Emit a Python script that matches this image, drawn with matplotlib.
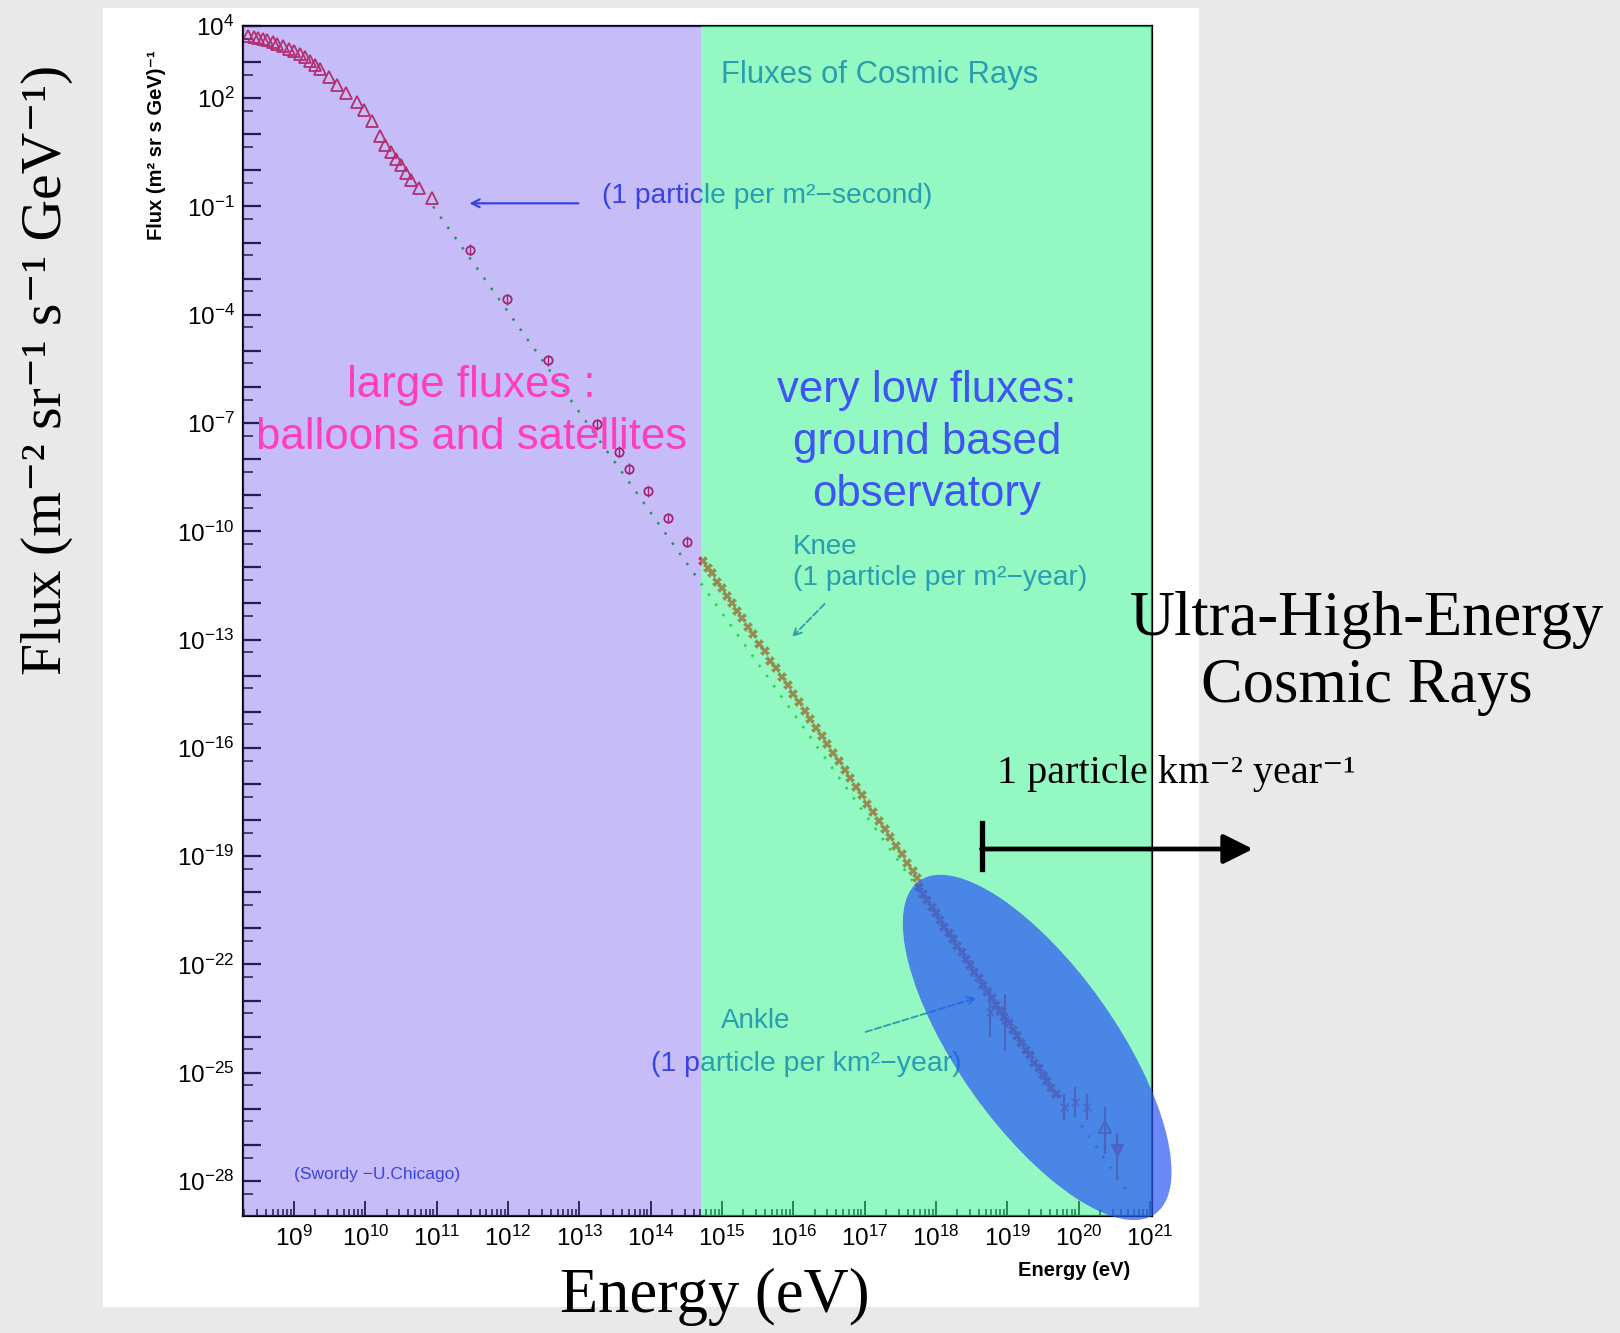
import numpy as np
import matplotlib
matplotlib.use("Agg")
import matplotlib.pyplot as plt
from matplotlib.patches import Ellipse, Rectangle, FancyArrowPatch
from matplotlib.lines import Line2D
from matplotlib.transforms import ScaledTranslation
from matplotlib.ticker import FixedLocator, NullFormatter

plt.rcParams['font.family'] = ['Liberation Sans', 'DejaVu Sans']
plt.rcParams['mathtext.fontset'] = 'custom'
plt.rcParams['mathtext.rm'] = 'Liberation Sans'
plt.rcParams['mathtext.it'] = 'Liberation Sans:italic'
plt.rcParams['mathtext.bf'] = 'Liberation Sans:bold'

# ---------------- data: log10(E / eV) and log10(flux) ----------------
# balloon / satellite spectrum (open triangles)
low_logE = [8.36, 8.44, 8.50, 8.56, 8.62, 8.70, 8.76, 8.84, 8.93, 9.00, 9.08, 9.15,
            9.22, 9.30, 9.37, 9.49, 9.60, 9.73, 9.88, 9.98, 10.09, 10.21, 10.28,
            10.36, 10.43, 10.50, 10.57, 10.64, 10.75, 10.93]
low_logF = [3.71, 3.70, 3.66, 3.64, 3.60, 3.55, 3.51, 3.44, 3.37, 3.30, 3.23, 3.14,
            3.03, 2.92, 2.80, 2.60, 2.37, 2.14, 1.89, 1.66, 1.37, 0.94, 0.71,
            0.51, 0.31, 0.14, -0.06, -0.26, -0.49, -0.77]

# direct measurements up to the knee (open circles)
mid_logE = [11.47, 11.98, 12.56, 13.25, 13.56, 13.70, 13.96, 14.24, 14.51]
mid_logF = [-2.20, -3.57, -5.26, -7.03, -7.80, -8.26, -8.89, -9.63, -10.29]
mid_err = [0.15, 0.15, 0.15, 0.15, 0.15, 0.15, 0.15, 0.15, 0.15]

# air-shower data around the knee
knee_logE = [14.74, 14.80, 14.86, 14.93, 15.00, 15.07, 15.14, 15.21, 15.28, 15.36,
             15.44, 15.52, 15.60, 15.68, 15.76, 15.84, 15.92, 16.00, 16.08, 16.16,
             16.24, 16.32, 16.40, 16.48, 16.56, 16.64, 16.72, 16.80, 16.88, 16.96,
             17.04, 17.12, 17.20, 17.28, 17.36, 17.44, 17.52, 17.60, 17.68, 17.74]
knee_logF = [-10.83, -11.02, -11.16, -11.40, -11.58, -11.80, -12.00, -12.22, -12.40, -12.64,
             -12.85, -13.12, -13.33, -13.58, -13.79, -14.05, -14.26, -14.52, -14.72, -14.97,
             -15.20, -15.44, -15.66, -15.90, -16.14, -16.37, -16.61, -16.84, -17.08, -17.31,
             -17.55, -17.78, -18.02, -18.25, -18.48, -18.72, -18.95, -19.18, -19.42, -19.60]

# ultra-high-energy data up to the ankle
ankle_logE = [17.76, 17.82, 17.88, 17.94, 18.00, 18.06, 18.12, 18.18, 18.24, 18.30,
              18.36, 18.42, 18.48, 18.54, 18.60, 18.66, 18.72, 18.78, 18.84, 18.90,
              18.96, 19.02, 19.08, 19.14, 19.20, 19.26, 19.32, 19.38, 19.44, 19.50,
              19.56, 19.62, 19.68]
ankle_logF = [-19.86, -20.05, -20.22, -20.41, -20.58, -20.76, -20.95, -21.12, -21.30, -21.50,
              -21.66, -21.85, -22.02, -22.22, -22.38, -22.58, -22.76, -22.93, -23.12, -23.28,
              -23.47, -23.63, -23.83, -23.99, -24.18, -24.36, -24.52, -24.72, -24.88, -25.07,
              -25.22, -25.42, -25.58]

# individual UHE points with error bars
uhe_logE = [18.76, 18.97, 19.79, 19.95, 20.12]
uhe_logF = [-23.32, -23.55, -25.94, -25.80, -25.94]
uhe_lo = [-24.01, -24.40, -26.30, -26.20, -26.30]
uhe_hi = [-22.63, -22.82, -25.60, -25.40, -25.60]

top_up_logE, top_up_logF, top_up_lo, top_up_hi = [20.37], [-26.50], [-27.24], [-25.95]
top_dn_logE, top_dn_logF, top_dn_lo, top_dn_hi = [20.54], [-27.15], [-27.97], [-26.68]

# power-law guide lines
fit_logE = [10.95, 17.75]
fit_logF = [-1.00, -19.90]
fit2_logE = [17.75, 20.70]
fit2_logF = [-19.90, -28.35]

# axis decades
x_label_exps = [9, 10, 11, 12, 13, 14, 15, 16, 17, 18, 19, 20, 21]
y_label_exps = [4, 2, -1, -4, -7, -10, -13, -16, -19, -22, -25, -28]
y_tick_exps = list(range(-28, 5))

# region boundary between direct and ground-based measurements
split_logE = 14.70
xlim_log = (8.285, 21.03)
ylim_log = (-28.97, 4.0)


def p(v):
    return 10.0 ** np.asarray(v, dtype=float)


def yerr_of(f, lo, hi):
    f, lo, hi = p(f), p(lo), p(hi)
    return [f - lo, hi - f]


W, H = 1620, 1333
fig = plt.figure(figsize=(W / 100, H / 100), dpi=100)
fig.patch.set_facecolor('#e9e9e9')

# white slide panel behind the plot
fig.add_artist(Rectangle((103 / W, 1 - 1307 / H), (1199 - 103) / W, (1307 - 8) / H,
                         transform=fig.transFigure, facecolor='white', edgecolor='none',
                         zorder=-5))

ax = fig.add_axes([243 / W, 1 - 1216 / H, 909 / W, 1190 / H])
ax.set_facecolor('white')
ax.set_xscale('log')
ax.set_yscale('log')
ax.set_xlim(p(xlim_log[0]), p(xlim_log[1]))
ax.set_ylim(p(ylim_log[0]), p(ylim_log[1]))

red = '#ff1a10'
dred = '#c4102c'

# guide lines
ax.plot(p(fit_logE), p(fit_logF), ls=(0, (1, 4)), color='#00c000', lw=1.8, zorder=2)
ax.plot(p(fit2_logE), p(fit2_logF), ls=(0, (1, 4)), color='#00c000', lw=1.8, zorder=2)

# spectra
ax.plot(p(low_logE), p(low_logF), ls='none', marker='^', ms=8, mfc='none',
        mec='#e0202a', mew=1.3, zorder=3)
ax.errorbar(p(mid_logE), p(mid_logF),
            yerr=[p(mid_logF) - p(np.subtract(mid_logF, mid_err)),
                  p(np.add(mid_logF, mid_err)) - p(mid_logF)],
            fmt='o', ms=6, mfc='none', mec=dred, mew=1.3, ecolor=dred, elinewidth=1.0,
            zorder=3)
ax.plot(p(knee_logE), p(knee_logF), ls='none', marker='X', ms=7, color=red, mew=0,
        zorder=3)
ax.plot(p(ankle_logE), p(ankle_logF), ls='none', marker='X', ms=7, color=red, mew=0,
        zorder=3)
ax.errorbar(p(uhe_logE), p(uhe_logF), yerr=yerr_of(uhe_logF, uhe_lo, uhe_hi),
            fmt='x', ms=6, color=red, ecolor=red, elinewidth=1.6, zorder=3)
ax.errorbar(p(top_up_logE), p(top_up_logF), yerr=yerr_of(top_up_logF, top_up_lo, top_up_hi),
            fmt='^', ms=9, mfc='none', mec=red, mew=1.4, ecolor=red, elinewidth=1.6, zorder=3)
ax.errorbar(p(top_dn_logE), p(top_dn_logF), yerr=yerr_of(top_dn_logF, top_dn_lo, top_dn_hi),
            fmt='v', ms=9, color=red, ecolor=red, elinewidth=1.6, zorder=3)

# original plot annotations
blue = '#2040dc'
ax.text(0.526, 0.959, 'Fluxes of Cosmic Rays', transform=ax.transAxes, ha='left',
        va='center', fontsize=22.3, color=blue, zorder=3)
ax.text(0.395, 0.857, '(1 particle per m²−second)', transform=ax.transAxes, ha='left',
        va='center', fontsize=20.3, color=blue, zorder=3)
ax.annotate('', xy=(0.246, 0.851), xytext=(0.372, 0.851), xycoords='axes fraction',
            arrowprops=dict(arrowstyle='->', color=blue, lw=1.6, mutation_scale=14),
            zorder=3)
ax.text(0.605, 0.562, 'Knee', transform=ax.transAxes, ha='left', va='center',
        fontsize=20, color=blue, zorder=3)
ax.text(0.605, 0.536, '(1 particle per m²−year)', transform=ax.transAxes, ha='left',
        va='center', fontsize=20.3, color=blue, zorder=3)
ax.annotate('', xy=(0.602, 0.485), xytext=(0.642, 0.516), xycoords='axes fraction',
            arrowprops=dict(arrowstyle='->', color=blue, lw=1.3, ls='--',
                            mutation_scale=14), zorder=3)
ax.text(0.526, 0.164, 'Ankle', transform=ax.transAxes, ha='left', va='center',
        fontsize=20, color=blue, zorder=3)
ax.text(0.449, 0.128, '(1 particle per km²−year)', transform=ax.transAxes, ha='left',
        va='center', fontsize=20.5, color=blue, zorder=3)
ax.annotate('', xy=(0.810, 0.184), xytext=(0.682, 0.154), xycoords='axes fraction',
            arrowprops=dict(arrowstyle='->', color=blue, lw=1.3, ls='--',
                            mutation_scale=14), zorder=3)
ax.text(0.056, 0.0345, '(Swordy −U.Chicago)', transform=ax.transAxes, ha='left',
        va='center', fontsize=12.5, color=blue, zorder=3)

# translucent region overlays
ax.axvspan(p(xlim_log[0]), p(split_logE), facecolor=(101 / 255, 74 / 255, 236 / 255),
           alpha=0.37, lw=0, zorder=5)
ax.axvspan(p(split_logE), p(xlim_log[1]), facecolor=(51 / 255, 242 / 255, 139 / 255),
           alpha=0.525, lw=0, zorder=5)

# highlight of the ultra-high-energy end
ell_center = (19.42, -24.30)
ell = Ellipse((0, 0), 4.08, 1.58, angle=-54.7,
              transform=fig.dpi_scale_trans + ScaledTranslation(p(ell_center[0]),
                                                                p(ell_center[1]),
                                                                ax.transData),
              facecolor=(41 / 255, 83 / 255, 245 / 255), alpha=0.69, lw=0, zorder=6,
              clip_on=False)
ax.add_patch(ell)

# slide text over the plot
ax.text(0.251, 0.698, 'large fluxes :', transform=ax.transAxes, ha='center', va='center',
        fontsize=31.5, color='#ff3dbf', zorder=8)
ax.text(0.251, 0.6546, 'balloons and satellites', transform=ax.transAxes, ha='center',
        va='center', fontsize=31.5, color='#ff3dbf', zorder=8)
for yy, s in [(0.6937, 'very low fluxes:'), (0.6504, 'ground based'),
              (0.6067, 'observatory')]:
    ax.text(0.7525, yy, s, transform=ax.transAxes, ha='center', va='center',
            fontsize=31.5, color='#3d55f5', zorder=8)

# axes styling
for s in ax.spines.values():
    s.set_color('black')
    s.set_linewidth(1.6)
    s.set_zorder(4)

ax.xaxis.set_major_locator(FixedLocator([10.0 ** k for k in x_label_exps]))
ax.xaxis.set_minor_locator(FixedLocator([m * 10.0 ** k for k in range(8, 21)
                                         for m in range(2, 10)]))
ax.set_xticklabels([rf'$\mathdefault{{10^{{{k}}}}}$' for k in x_label_exps])
ax.xaxis.set_minor_formatter(NullFormatter())

ax.yaxis.set_major_locator(FixedLocator([10.0 ** k for k in y_tick_exps]))
ax.yaxis.set_minor_locator(FixedLocator([10.0 ** (k + 0.65) for k in range(-29, 4)]))
ax.set_yticklabels([rf'$\mathdefault{{10^{{{k}}}}}$' if k in y_label_exps else ''
                    for k in y_tick_exps])
ax.yaxis.set_minor_formatter(NullFormatter())

ax.tick_params(axis='both', which='both', direction='in', color='black')
ax.tick_params(axis='x', which='major', length=11, width=1.3, labelsize=17.5, pad=7)
ax.tick_params(axis='x', which='minor', length=5, width=1.1)
ax.tick_params(axis='y', which='major', length=13, width=1.6, labelsize=17.5, pad=6)
ax.tick_params(axis='y', which='minor', length=7, width=1.1)

# original axis titles
fig.text(157 / W, 1 - 145 / H, 'Flux (m² sr s GeV)⁻¹', rotation=90, ha='center',
         va='center', fontsize=14.5, fontweight='bold', color='black')
fig.text(1018 / W, 1 - 1271 / H, 'Energy (eV)', ha='left', va='center', fontsize=14.5,
         fontweight='bold', color='black')

# slide labels
serif = ['Liberation Serif', 'DejaVu Serif']
fig.text(46.5 / W, 1 - 370 / H, 'Flux (m⁻² sr⁻¹ s⁻¹ GeV⁻¹)',
         rotation=90, ha='center', va='center', fontsize=41.5, family=serif,
         color='black')
fig.text(715 / W, 1 - 1297 / H, 'Energy (eV)', ha='center', va='center', fontsize=45,
         family=serif, color='black', zorder=5)
fig.text(1367 / W, 1 - 620 / H, 'Ultra-High-Energy', ha='center', va='center',
         fontsize=45, family=serif, color='black', zorder=5)
fig.text(1367 / W, 1 - 687 / H, 'Cosmic Rays', ha='center', va='center', fontsize=45,
         family=serif, color='black', zorder=5)
fig.text(997 / W, 1 - 773 / H, '1 particle km⁻² year⁻¹', ha='left',
         va='center', fontsize=29, family=serif, color='black', zorder=5)

# range arrow starting at the UHE threshold
fig.add_artist(Line2D([981.5 / W, 981.5 / W], [1 - 823 / H, 1 - 869 / H],
                      transform=fig.transFigure, color='black', lw=3.8, zorder=5))
fig.add_artist(FancyArrowPatch((981.5 / W, 1 - 849 / H), (1253 / W, 1 - 849 / H),
                               transform=fig.transFigure,
                               arrowstyle='-|>,head_length=0.9,head_width=0.45',
                               mutation_scale=20, color='black', lw=3.4,
                               shrinkA=0, shrinkB=0, zorder=5))

fig.savefig('out.png', dpi=100, facecolor=fig.get_facecolor())
